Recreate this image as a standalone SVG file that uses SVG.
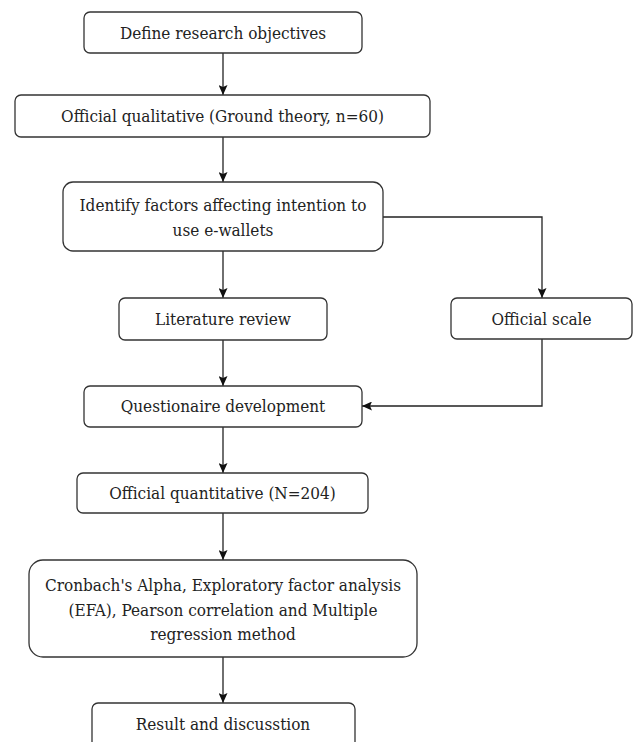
<svg xmlns="http://www.w3.org/2000/svg" width="637" height="742" viewBox="0 0 637 742">
<style>
.box{fill:#fff;stroke:#333;stroke-width:1.3}
.t{font-family:'DejaVu Serif Condensed','DejaVu Serif',serif;font-stretch:condensed;font-size:17px;fill:#222;text-anchor:middle}
.c{fill:none;stroke:#222;stroke-width:1.3}
</style>
<defs>
<marker id="ah" viewBox="0 0 10 10" refX="10" refY="5" markerWidth="10" markerHeight="9" markerUnits="userSpaceOnUse" orient="auto" preserveAspectRatio="none">
<path d="M0,0 L10,5 L0,10 L2,5 Z" fill="#111"/>
</marker>
</defs>
<rect width="637" height="742" fill="#fff"/>
<g id="connectors">
<line class="c" x1="223" y1="53" x2="223" y2="95" marker-end="url(#ah)"/>
<line class="c" x1="223" y1="137" x2="223" y2="182" marker-end="url(#ah)"/>
<line class="c" x1="223" y1="251" x2="223" y2="298" marker-end="url(#ah)"/>
<polyline class="c" points="383,217 542,217 542,298" marker-end="url(#ah)"/>
<line class="c" x1="223" y1="340" x2="223" y2="386" marker-end="url(#ah)"/>
<polyline class="c" points="542,339 542,406 362,406" marker-end="url(#ah)"/>
<line class="c" x1="223" y1="427" x2="223" y2="473" marker-end="url(#ah)"/>
<line class="c" x1="223" y1="513" x2="223" y2="560" marker-end="url(#ah)"/>
<line class="c" x1="223" y1="657" x2="223" y2="703" marker-end="url(#ah)"/>
</g>
<g id="n1"><rect class="box" x="84" y="12" width="278" height="41" rx="6"/><text class="t" x="223" y="39">Define research objectives</text></g>
<g id="n2"><rect class="box" x="15" y="95" width="415" height="42" rx="6"/><text class="t" x="222.5" y="122">Official qualitative (Ground theory, n=60)</text></g>
<g id="n3"><rect class="box" x="63" y="182" width="320" height="69" rx="10"/><text class="t" x="223" y="211">Identify factors affecting intention to</text><text class="t" x="223" y="236">use e-wallets</text></g>
<g id="n4"><rect class="box" x="119" y="298" width="208" height="42" rx="6"/><text class="t" x="223" y="325">Literature review</text></g>
<g id="n5"><rect class="box" x="451" y="298" width="181" height="41" rx="6"/><text class="t" x="541.5" y="325">Official scale</text></g>
<g id="n6"><rect class="box" x="84" y="386" width="278" height="41" rx="6"/><text class="t" x="223" y="412">Questionaire development</text></g>
<g id="n7"><rect class="box" x="77" y="473" width="291" height="40" rx="6"/><text class="t" x="222.5" y="499">Official quantitative (N=204)</text></g>
<g id="n8"><rect class="box" x="29" y="560" width="388" height="97" rx="14"/><text class="t" x="223" y="591">Cronbach's Alpha, Exploratory factor analysis</text><text class="t" x="223" y="616">(EFA), Pearson correlation and Multiple</text><text class="t" x="223" y="640">regression method</text></g>
<g id="n9"><rect class="box" x="92" y="703" width="263" height="50" rx="6"/><text class="t" x="223" y="730">Result and discusstion</text></g>
</svg>
